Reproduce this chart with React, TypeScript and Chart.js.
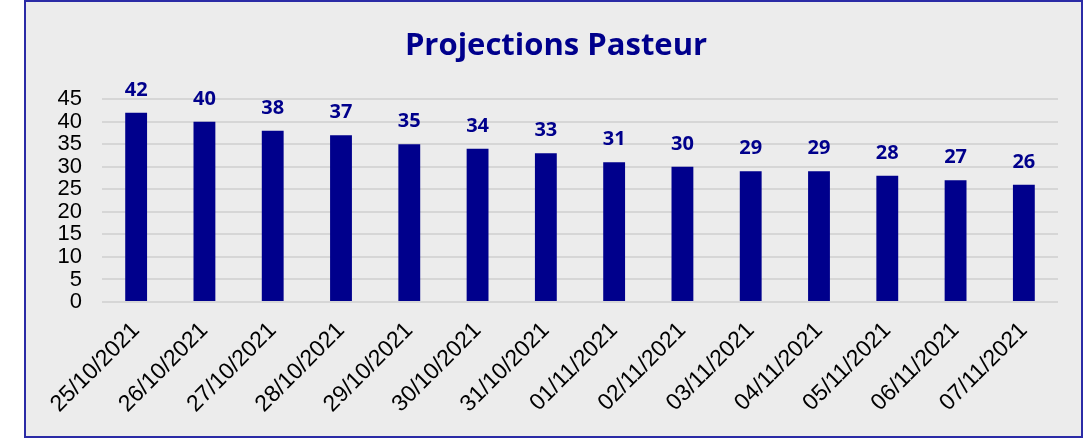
import React, { useEffect, useRef } from "react";
import { Chart, registerables } from "chart.js";

Chart.register(...registerables);

const categories = [
  "25/10/2021", "26/10/2021", "27/10/2021", "28/10/2021", "29/10/2021",
  "30/10/2021", "31/10/2021", "01/11/2021", "02/11/2021", "03/11/2021",
  "04/11/2021", "05/11/2021", "06/11/2021", "07/11/2021",
];
const values = [42, 40, 38, 37, 35, 34, 33, 31, 30, 29, 29, 28, 27, 26];
const chartTitle = "Projections Pasteur";
const yMin = 0;
const yMax = 45;
const yStep = 5;

const NAVY = "#00008c";

const labelPlugin = {
  id: "barValueLabels",
  afterDatasetsDraw(chart: any) {
    const ctx = chart.ctx;
    const meta = chart.getDatasetMeta(0);
    ctx.save();
    ctx.font = "bold 20px 'Open Sans'";
    ctx.fillStyle = NAVY;
    ctx.textAlign = "center";
    ctx.textBaseline = "alphabetic";
    meta.data.forEach((bar: any, i: number) => {
      ctx.fillText(String(values[i]), bar.x, bar.y - 17);
    });
    ctx.restore();
  },
};

export default function App() {
  const ref = useRef<HTMLCanvasElement | null>(null);
  useEffect(() => {
    if (!ref.current) return;
    const chart = new Chart(ref.current, {
      type: "bar",
      data: {
        labels: categories,
        datasets: [
          {
            data: values,
            backgroundColor: NAVY,
            borderWidth: 0,
            barPercentage: 0.32,
            categoryPercentage: 1,
          },
        ],
      },
      options: {
        animation: false,
        responsive: false,
        maintainAspectRatio: false,
        layout: { padding: { left: 54, right: 31, top: 0, bottom: 0 } },
        plugins: {
          legend: { display: false },
          tooltip: { enabled: false },
          title: {
            display: true,
            text: chartTitle,
            color: NAVY,
            font: { family: "'Open Sans'", size: 31, weight: "bold", lineHeight: 1.2 },
            padding: { top: 28, bottom: 34 },
          },
        },
        scales: {
          x: {
            grid: { display: false, drawTicks: false },
            border: { display: false },
            ticks: {
              color: "#000000",
              font: { family: "'Liberation Sans', Arial", size: 23 },
              minRotation: 45,
              maxRotation: 45,
              padding: 15,
              autoSkip: false,
            },
            afterFit(scale: any) {
              scale.height = 137;
            },
          },
          y: {
            min: yMin,
            max: yMax,
            grid: { color: "#d6d6d6", lineWidth: 2, drawTicks: false },
            border: { display: false },
            ticks: {
              stepSize: yStep,
              autoSkip: false,
              color: "#000000",
              font: { family: "'Liberation Sans', Arial", size: 22, lineHeight: 1 },
              padding: 20,
            },
            afterFit(scale: any) {
              scale.width = 48;
            },
          },
        },
      },
      plugins: [labelPlugin],
    });
    return () => chart.destroy();
  }, []);

  return (
    <div style={{ position: "absolute", left: 0, top: 0, width: 1089, height: 439, background: "#ffffff" }}>
      <div
        style={{
          position: "absolute",
          left: 24,
          top: 0,
          width: 1055,
          height: 434,
          background: "#ececec",
          border: "2px solid #2b2ba6",
        }}
      />
      <canvas
        ref={ref}
        width={1089}
        height={439}
        style={{ position: "absolute", left: 0, top: 0, width: 1089, height: 439 }}
      />
    </div>
  );
}
